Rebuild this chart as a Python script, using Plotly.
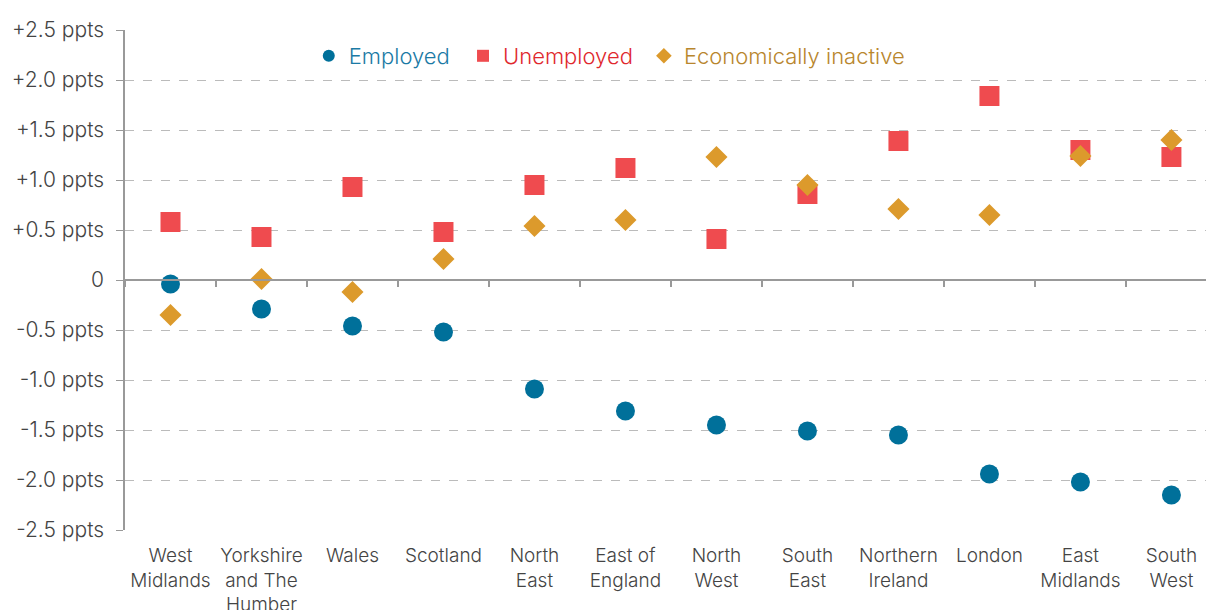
import plotly.graph_objects as go

regions = ["West<br>Midlands", "Yorkshire<br>and The<br>Humber", "Wales", "Scotland",
           "North<br>East", "East of<br>England", "North<br>West", "South<br>East",
           "Northern<br>Ireland", "London", "East<br>Midlands", "South<br>West"]
employed = [-0.04, -0.29, -0.46, -0.52, -1.09, -1.31, -1.45, -1.51, -1.55, -1.94, -2.02, -2.15]
unemployed = [0.58, 0.43, 0.93, 0.48, 0.95, 1.12, 0.41, 0.86, 1.39, 1.84, 1.30, 1.23]
inactive = [-0.35, 0.01, -0.12, 0.21, 0.54, 0.60, 1.23, 0.95, 0.71, 0.65, 1.24, 1.40]
y_ticks = [2.5, 2.0, 1.5, 1.0, 0.5, 0, -0.5, -1.0, -1.5, -2.0, -2.5]
y_labels = ["+2.5 ppts", "+2.0 ppts", "+1.5 ppts", "+1.0 ppts", "+0.5 ppts", "0",
            "-0.5 ppts", "-1.0 ppts", "-1.5 ppts", "-2.0 ppts", "-2.5 ppts"]

C_EMP = "#00709a"
C_UNE = "#ef4b4f"
C_INA = "#dc9a2c"

fig = go.Figure()
fig.add_trace(go.Scatter(x=regions, y=employed, mode="markers", legend="legend",
                         name="<span style='color:#1b7aa5'>Employed</span>",
                         marker=dict(symbol="circle", size=19, color=C_EMP)))
fig.add_trace(go.Scatter(x=regions, y=unemployed, mode="markers", legend="legend2",
                         name="<span style='color:#e0282e'>Unemployed</span>",
                         marker=dict(symbol="square", size=20, color=C_UNE)))
fig.add_trace(go.Scatter(x=regions, y=inactive, mode="markers", legend="legend3",
                         name="<span style='color:#b8862d'>Economically inactive</span>",
                         marker=dict(symbol="diamond", size=17, color=C_INA)))
# invisible trace to carry the zero-line tick axis
fig.add_trace(go.Scatter(x=regions, y=[0] * len(regions), xaxis="x2", mode="markers",
                         marker=dict(opacity=0), showlegend=False, hoverinfo="skip"))

font_family = "Inter, 'Open Sans', sans-serif"
leg_common = dict(orientation="h", y=0.99, xanchor="left", yanchor="top",
                  font=dict(size=22, weight=300), itemsizing="constant",
                  bgcolor="rgba(0,0,0,0)", itemwidth=30)
fig.update_layout(
    width=1206, height=610,
    margin=dict(l=125, r=0, t=30, b=80),
    plot_bgcolor="white", paper_bgcolor="white",
    font=dict(family=font_family, size=19, color="#444", weight=300),
    showlegend=True,
    legend=dict(x=0.170, **leg_common),
    legend2=dict(x=0.3127, **leg_common),
    legend3=dict(x=0.480, **leg_common),
    xaxis=dict(type="category", categoryorder="array", categoryarray=regions,
               range=[-0.5, 11.38], showgrid=False, showline=False, ticks="",
               ticklabelstandoff=12, automargin=False,
               tickfont=dict(size=19, color="#444", weight=300), zeroline=False),
    xaxis2=dict(type="category", categoryorder="array", categoryarray=regions,
                range=[-0.5, 11.38], overlaying="x", anchor="free", position=0.5,
                side="bottom", showline=True, linecolor="#999", linewidth=2,
                ticks="outside", ticklen=6, tickcolor="#999", tickwidth=2,
                tickson="boundaries", showticklabels=False, showgrid=False),
    yaxis=dict(range=[-2.5, 2.5], tickvals=y_ticks, ticktext=y_labels,
               showgrid=True, gridcolor="#bbbbbb", griddash="dash", gridwidth=1,
               showline=True, linecolor="#999", linewidth=1.5, automargin=False,
               ticks="outside", ticklen=7, tickcolor="#999", ticklabelstandoff=8,
               zeroline=False, tickfont=dict(size=21, color="#444", weight=300)),
)

fig.write_html("out.html", config={"displayModeBar": False},
               post_script="document.body.style.margin='0';")
